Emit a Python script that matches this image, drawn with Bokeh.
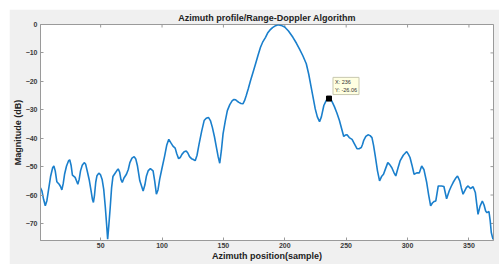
import math
from bokeh.plotting import figure
from bokeh.models import Range1d, FixedTicker, Label, ColumnDataSource
from bokeh.embed import file_html
from bokeh.resources import INLINE

# ---- data ----
azimuth = [1, 2.2, 3.5, 4.9, 6.2, 7.6, 9.2, 10.9, 11.9, 13, 14.3, 16.2, 17.3, 18.4, 19.5, 20.6,
           22.2, 23.8, 24.8, 25.9, 27, 29.2, 30.3, 31.4, 32.5, 33.6, 35, 36.6, 37.8, 39.3, 40.8,
           42.2, 43.3, 44.1, 45, 46, 47, 48.5, 49.8, 51.2, 52.5, 53.8, 54.8, 55.7, 56.6, 57.8,
           58.9, 60, 61.5, 63.2, 64.3, 65.5, 66.5, 67.6, 69, 71, 72.5, 73.8, 75.5, 77.3, 78.6,
           80, 81.9, 83.3, 84.6, 86, 87.3, 88.8, 90.5, 92.7, 94, 95.4, 96.7, 98.1, 100, 102.1,
           103.8, 105.5, 107, 108.9, 110.7, 112, 113.5, 114.8, 116.2, 118, 119.7, 121, 122.4,
           124, 125.1, 127, 128.5, 130.2, 132.3, 134.3, 136, 137.8, 139.4, 141, 142.7, 144.3,
           145.7, 147, 148.3, 149.7, 151.5, 153.2, 155.2, 157.2, 158.6, 160, 161.3, 162.6,
           164.3, 165.9, 167.2, 168.6, 170.3, 172.1, 174.2, 176.2, 178.2, 180.2, 182.2, 184.3,
           186, 187.8, 190, 192.5, 194.5, 197, 199.9, 203, 206.6, 209.5, 211.9, 214.7, 217.5,
           219.5, 221.5, 223.2, 224.8, 226.5, 228.3, 229.8, 231.8, 233.8, 236, 238.2, 240.4,
           242.5, 244.5, 246.2, 248, 249.3, 250.7, 252.5, 254.8, 256.5, 258.8, 260.5, 262.3,
           263.3, 264.2, 266, 267.8, 269.5, 271, 272.3, 273.7, 275.5, 277.2, 278.8, 280.4, 282,
           283.9, 285.5, 287.2, 288.8, 290.4, 292.2, 293.9, 296.5, 299.3, 300.7, 302, 303.6,
           305.3, 307.5, 309.6, 311.5, 313.3, 315.6, 317.2, 318.8, 320.2, 321.5, 323, 325,
           327.7, 329.6, 331.8, 333.9, 335.5, 337.1, 339, 340.7, 342.5, 343.8, 345.2, 347.9,
           349.3, 351.2, 353.4, 355.2, 356.3, 357.4, 359, 360.9, 362.3, 363.6, 364.7, 366.3,
           367.3, 368.2, 369.6]
magnitude_db = [-57.5, -58.6, -61.5, -63.8, -62, -58, -53.5, -50.4, -49.8, -51.5, -55.3, -56.2,
                -57, -58.2, -56, -52.7, -49.8, -48, -47.6, -49.5, -53, -53.8, -55, -56.2, -54.5,
                -51.5, -49.5, -48.6, -49.2, -52, -54.9, -58.5, -61.5, -62.6, -60, -55.5, -53.2,
                -52.3, -52.8, -54.5, -58, -64.3, -70, -75.5, -71, -64.3, -57.5, -53.5, -52.5,
                -51.4, -50.8, -52, -54.5, -55.6, -54, -52.7, -51, -48.6, -47, -46.5, -47.3,
                -49.8, -55, -56.8, -58.6, -56.5, -53.3, -51.4, -50.7, -51.5, -55, -59.7, -58.2,
                -54.4, -50.5, -46.3, -42.5, -40.4, -41.5, -42.8, -43.5, -45.5, -47.2, -46.8,
                -45.7, -44.8, -44.5, -45.2, -46.5, -47.2, -47.4, -47.9, -46, -42, -37.5, -33.8,
                -33, -32.7, -33.8, -36.2, -39.5, -43.2, -46.5, -48.8, -44.5, -38.5, -34, -30.3,
                -28.2, -26.8, -26.4, -26.5, -27, -27.4, -27.8, -27.9, -26.8, -25, -22.5, -19.7,
                -16.7, -13.8, -10.8, -8, -6, -4.5, -3, -2, -1.1, -0.4, -0.1, -0.3, -0.9, -2.3,
                -4.5, -6.6, -8.6, -11, -13.8, -17.5, -22.1, -26, -29.7, -32.5, -34.2, -32.5,
                -28.5, -26.7, -26.06, -26.9, -28.9, -31.2, -33.8, -36.5, -39.4, -38.9, -38.8,
                -39.8, -40.4, -41.8, -43.7, -43.7, -43.3, -42.2, -40.9, -39.4, -38.8, -39.1,
                -39.8, -42.5, -46.3, -51.5, -55, -53.5, -52.7, -50.8, -48.6, -49.3, -50.4, -52,
                -53.3, -50.5, -48, -46, -44.7, -45.7, -46.8, -49.5, -52.7, -52.2, -52.2, -49.8,
                -51, -55.6, -60, -63.8, -62.8, -62.3, -62.1, -56.8, -56.8, -57, -61.3, -58.6,
                -57, -55.6, -54.2, -53.3, -55, -57.5, -59.7, -57.4, -56.8, -57.7, -57.1, -59.1,
                -63, -66.8, -64, -62.1, -63.5, -65.6, -66.2, -65.8, -69, -73.2, -75.6]
x_ticks = [50, 100, 150, 200, 250, 300, 350]
y_ticks = [0, -10, -20, -30, -40, -50, -60, -70]
x_lim = (1, 370)
y_lim = (-76, 0)
tip_x = [236]
tip_y = [-26.06]
tip_text = "X: 236\nY: -26.06"
title_text = "Azimuth profile/Range-Doppler Algorithm"
x_label = "Azimuth position(sample)"
y_label = "Magnitude (dB)"

FONT = "Liberation Sans"
AXIS_GRAY = "#9a9a9a"
TEXT_GRAY = "#3a3a3a"

p = figure(width=490, height=255, output_backend="svg", toolbar_location=None,
           x_range=Range1d(*x_lim), y_range=Range1d(*y_lim),
           min_border_left=30, min_border_right=6, min_border_top=15, min_border_bottom=24,
           border_fill_color="#f0f0f0", background_fill_color="white",
           title=title_text)
p.margin = (9, 0, 0, 9)

p.title.align = "center"
p.title.text_font = FONT
p.title.text_font_size = "9px"
p.title.text_font_style = "bold"
p.title.text_color = "#222222"
p.title.standoff = 3

p.outline_line_color = AXIS_GRAY
p.grid.visible = False

for ax in (p.xaxis[0], p.yaxis[0]):
    ax.axis_line_color = AXIS_GRAY
    ax.major_tick_line_color = AXIS_GRAY
    ax.major_tick_in = 3
    ax.major_tick_out = 0
    ax.minor_tick_line_color = None
    ax.major_label_text_font = FONT
    ax.major_label_text_font_style = "bold"
    ax.major_label_text_color = TEXT_GRAY
    ax.major_label_text_font_size = "7px"
    ax.axis_label_text_font = FONT
    ax.axis_label_text_font_style = "bold"
    ax.axis_label_text_font_size = "9px"
    ax.axis_label_text_color = "#222222"

p.xaxis.ticker = FixedTicker(ticks=x_ticks)
p.yaxis.ticker = FixedTicker(ticks=y_ticks)
p.xaxis.axis_label = x_label
p.yaxis.axis_label = y_label
p.xaxis.major_label_standoff = 2
p.xaxis.axis_label_standoff = 0
p.yaxis.major_label_standoff = 3
p.yaxis.axis_label_standoff = 0

# mirrored inward tick marks on the top and right edges of the box (clipped to the frame)
p.scatter(x_ticks, [y_lim[1]] * len(x_ticks), marker="dash", angle=math.pi / 2, size=6,
          line_color=AXIS_GRAY, line_width=1)
p.scatter([x_lim[1]] * len(y_ticks), y_ticks, marker="dash", size=6,
          line_color=AXIS_GRAY, line_width=1)

src = ColumnDataSource(data=dict(x=azimuth, y=magnitude_db))
p.line("x", "y", source=src, line_color="#1a7fcc", line_width=1.6)

p.scatter(tip_x, tip_y, marker="square", size=5, fill_color="black", line_color="black")

lbl = Label(x=tip_x[0], y=tip_y[0], x_offset=4, y_offset=4, text=tip_text,
            text_font=FONT, text_font_size="5.5px", text_color="#333333",
            text_align="left", text_baseline="bottom",
            background_fill_color="#ffffe1", border_line_color="#c8c8b0",
            padding=2)
p.add_layout(lbl)

open("out.html", "w").write(file_html(p, INLINE))
